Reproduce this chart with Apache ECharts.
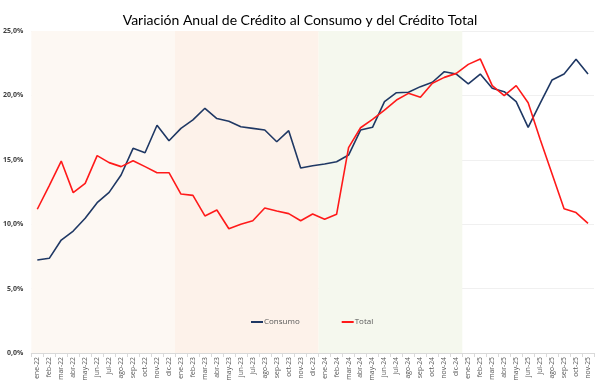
<!DOCTYPE html>
<html><head><meta charset="utf-8">
<script src="https://cdn.jsdelivr.net/npm/echarts@6/dist/echarts.min.js"></script>
<style>html,body{margin:0;padding:0;background:#fff}#c{width:600px;height:391px}</style>
</head><body><div id="c"></div>
<script>
const months = ['ene','feb','mar','abr','may','jun','jul','ago','sep','oct','nov','dic'];
const categories = [];
for (const y of ['22','23','24','25']) for (const m of months) categories.push(m + '-' + y);
categories.length = 47; // ene-22 .. nov-25

const consumo = [7.22,7.35,8.77,9.47,10.46,11.67,12.47,13.82,15.89,15.55,17.68,16.48,
  17.44,18.1,19.0,18.2,18.0,17.57,17.44,17.31,16.4,17.26,14.36,14.54,
  14.67,14.85,15.37,17.31,17.52,19.51,20.21,20.24,20.68,21.02,21.84,21.66,
  20.89,21.66,20.55,20.29,19.51,17.52,19.38,21.2,21.66,22.8,21.66];
const total = [11.16,13.0,14.9,12.45,13.17,15.32,14.78,14.47,14.93,14.47,14.0,14.0,
  12.34,12.24,10.64,11.1,9.65,9.99,10.27,11.26,11.02,10.82,10.27,10.79,
  10.38,10.77,15.95,17.49,18.14,18.85,19.64,20.16,19.85,20.94,21.4,21.71,
  22.41,22.83,20.76,19.98,20.76,19.43,16.6,13.9,11.2,10.9,10.07];
const yTicks = [0,5,10,15,20,25];
// year bands (category index ranges) for background shading
const bands = [[0,11],[12,23],[24,35]];
const bandColors = ['#fdf8f3','#fdf2ea','#f5f8ee'];

const chart = echarts.init(document.getElementById('c'));
chart.setOption({
  animation:false,
  title:{text:'Variación Anual de Crédito al Consumo y del Crédito Total',left:'center',top:8,
    textStyle:{fontFamily:'Lato',fontWeight:'normal',fontSize:14,color:'#000'}},
  grid:{left:30,right:6,top:31,bottom:38},
  legend:{data:['Consumo','Total'],left:246,top:313,itemWidth:12,itemHeight:2,itemGap:42,icon:'rect',
    textStyle:{fontSize:8,color:'#595959',fontFamily:'Open Sans',padding:[0,0,0,-4]}},
  xAxis:[{type:'category',data:categories,boundaryGap:true,
    axisLine:{lineStyle:{color:'#d9d9d9'}},
    axisTick:{show:true,length:4,lineStyle:{color:'#d9d9d9'}},
    axisLabel:{rotate:90,interval:0,fontSize:6.8,color:'#595959',margin:4,fontFamily:'Open Sans'}},
   {type:'value',min:-0.5,max:46.5,show:false}],
  yAxis:{type:'value',min:yTicks[0],max:yTicks[yTicks.length-1],interval:5,
    axisLine:{show:false},axisTick:{show:false},
    splitLine:{lineStyle:{color:'#f0f0f0'}},
    axisLabel:{fontSize:7,fontWeight:'bold',color:'#404040',margin:8,fontFamily:'Open Sans',
      formatter:v=>v.toFixed(1).replace('.',',')+'%'}},
  series:[
    {type:'line',xAxisIndex:1,data:[],silent:true,
      markArea:{silent:true,data:bands.map((b,i)=>[{xAxis:b[0]-0.5,itemStyle:{color:bandColors[i]}},{xAxis:b[1]+0.5}])}},
    {name:'Consumo',type:'line',data:consumo,showSymbol:false,symbol:'none',
      lineStyle:{color:'#1f3864',width:1.6},itemStyle:{color:'#1f3864'}},
    {name:'Total',type:'line',data:total,showSymbol:false,symbol:'none',
      lineStyle:{color:'#ff1a1a',width:1.6},itemStyle:{color:'#ff1a1a'}}
  ]
});
</script></body></html>
